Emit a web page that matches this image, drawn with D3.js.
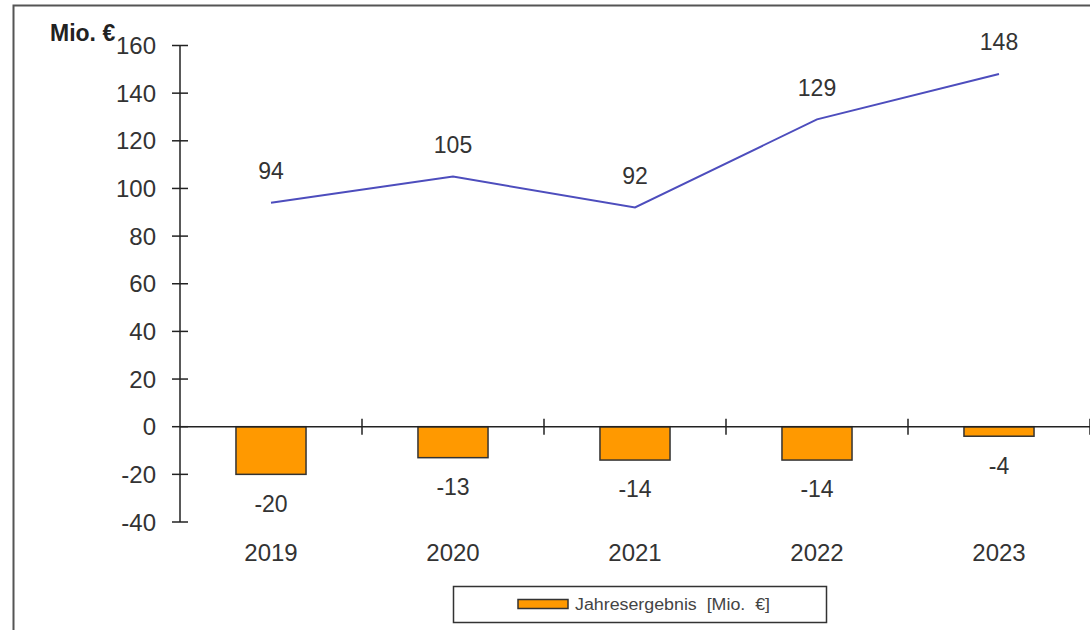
<!DOCTYPE html>
<html>
<head>
<meta charset="utf-8">
<script src="https://cdn.jsdelivr.net/npm/d3@7/dist/d3.min.js"></script>
<style>
  body { margin: 0; background: #fff; }
  text { font-family: Arial, "Liberation Sans", sans-serif; }
</style>
</head>
<body>
<div id="chart"></div>
<script>
// Data
var years = ["2019", "2020", "2021", "2022", "2023"];
var lineValues = [94, 105, 92, 129, 148];
var barValues = [-20, -13, -14, -14, -4];
var yTicks = [-40, -20, 0, 20, 40, 60, 80, 100, 120, 140, 160];
var legendLabel = "Jahresergebnis  [Mio.  \u20ac]";

var width = 1090, height = 630;

var svg = d3.select("#chart").append("svg")
    .attr("width", width)
    .attr("height", height);

// outer frame (right and bottom edges fall outside the picture)
svg.append("rect")
    .attr("x", 13.5).attr("y", 5.5)
    .attr("width", 1100).attr("height", 700)
    .attr("fill", "none")
    .attr("stroke", "#555")
    .attr("stroke-width", 2);

var x = d3.scaleBand().domain(years).range([180, 1090]).padding(0);
var y = d3.scaleLinear().domain([-40, 160]).range([522, 45.5]);

var barW = x.bandwidth() * 0.385;

// bars
svg.selectAll("rect.bar")
    .data(barValues)
    .enter().append("rect")
    .attr("class", "bar")
    .attr("x", function(d, i) { return x(years[i]) + x.bandwidth() / 2 - barW / 2; })
    .attr("y", function(d) { return y(Math.max(0, d)); })
    .attr("width", barW)
    .attr("height", function(d) { return Math.abs(y(d) - y(0)); })
    .attr("fill", "#ff9900")
    .attr("stroke", "#333")
    .attr("stroke-width", 1.5);

// y axis
var yAxis = svg.append("g");
yAxis.append("line")
    .attr("x1", 180).attr("x2", 180)
    .attr("y1", y(160)).attr("y2", y(-40))
    .attr("stroke", "#222").attr("stroke-width", 1.5);
yAxis.selectAll("line.tick")
    .data(yTicks)
    .enter().append("line")
    .attr("class", "tick")
    .attr("x1", 172).attr("x2", 188)
    .attr("y1", function(d) { return y(d); })
    .attr("y2", function(d) { return y(d); })
    .attr("stroke", "#222").attr("stroke-width", 1.5);
yAxis.selectAll("text")
    .data(yTicks)
    .enter().append("text")
    .attr("x", 156)
    .attr("y", function(d) { return y(d); })
    .attr("dy", "0.36em")
    .attr("text-anchor", "end")
    .attr("font-size", 24)
    .attr("fill", "#333")
    .text(function(d) { return d; });

// x axis at zero
svg.append("line")
    .attr("x1", 180).attr("x2", 1090)
    .attr("y1", y(0)).attr("y2", y(0))
    .attr("stroke", "#222").attr("stroke-width", 1.5);
svg.selectAll("line.xtick")
    .data(years.slice(1).concat(["end"]))
    .enter().append("line")
    .attr("class", "xtick")
    .attr("x1", function(d, i) { return x(years[0]) + (i + 1) * x.bandwidth(); })
    .attr("x2", function(d, i) { return x(years[0]) + (i + 1) * x.bandwidth(); })
    .attr("y1", y(0) - 8).attr("y2", y(0) + 8)
    .attr("stroke", "#222").attr("stroke-width", 1.5);

svg.selectAll("text.year")
    .data(years)
    .enter().append("text")
    .attr("class", "year")
    .attr("x", function(d) { return x(d) + x.bandwidth() / 2; })
    .attr("y", 552)
    .attr("dy", "0.36em")
    .attr("text-anchor", "middle")
    .attr("font-size", 24)
    .attr("fill", "#333")
    .text(function(d) { return d; });

// bar labels
svg.selectAll("text.barlabel")
    .data(barValues)
    .enter().append("text")
    .attr("class", "barlabel")
    .attr("x", function(d, i) { return x(years[i]) + x.bandwidth() / 2; })
    .attr("y", function(d) { return y(d) + 29; })
    .attr("dy", "0.36em")
    .attr("text-anchor", "middle")
    .attr("font-size", 23)
    .attr("fill", "#333")
    .text(function(d) { return d; });

// line
var line = d3.line()
    .x(function(d, i) { return x(years[i]) + x.bandwidth() / 2; })
    .y(function(d) { return y(d); });

svg.append("path")
    .datum(lineValues)
    .attr("d", line)
    .attr("fill", "none")
    .attr("stroke", "#4d4dbd")
    .attr("stroke-width", 2);

svg.selectAll("text.linelabel")
    .data(lineValues)
    .enter().append("text")
    .attr("class", "linelabel")
    .attr("x", function(d, i) { return x(years[i]) + x.bandwidth() / 2; })
    .attr("y", function(d) { return y(d) - 32; })
    .attr("dy", "0.36em")
    .attr("text-anchor", "middle")
    .attr("font-size", 23)
    .attr("fill", "#333")
    .text(function(d) { return d; });

// unit title
svg.append("text")
    .attr("x", 50).attr("y", 41)
    .attr("font-size", 23)
    .attr("font-weight", "bold")
    .attr("fill", "#222")
    .text("Mio. \u20ac");

// legend
var legend = svg.append("g");
legend.append("rect")
    .attr("x", 453.5).attr("y", 586.5)
    .attr("width", 373).attr("height", 36)
    .attr("fill", "#fff")
    .attr("stroke", "#333").attr("stroke-width", 1.5);
legend.append("rect")
    .attr("x", 518).attr("y", 599.5)
    .attr("width", 50).attr("height", 9)
    .attr("fill", "#ff9900")
    .attr("stroke", "#333").attr("stroke-width", 1.5);
legend.append("text")
    .attr("x", 575).attr("y", 604.5)
    .attr("dy", "0.36em")
    .attr("font-size", 16)
    .attr("fill", "#444")
    .attr("textLength", 195)
    .attr("lengthAdjust", "spacingAndGlyphs")
    .style("white-space", "pre")
    .text(legendLabel);
</script>
</body>
</html>
